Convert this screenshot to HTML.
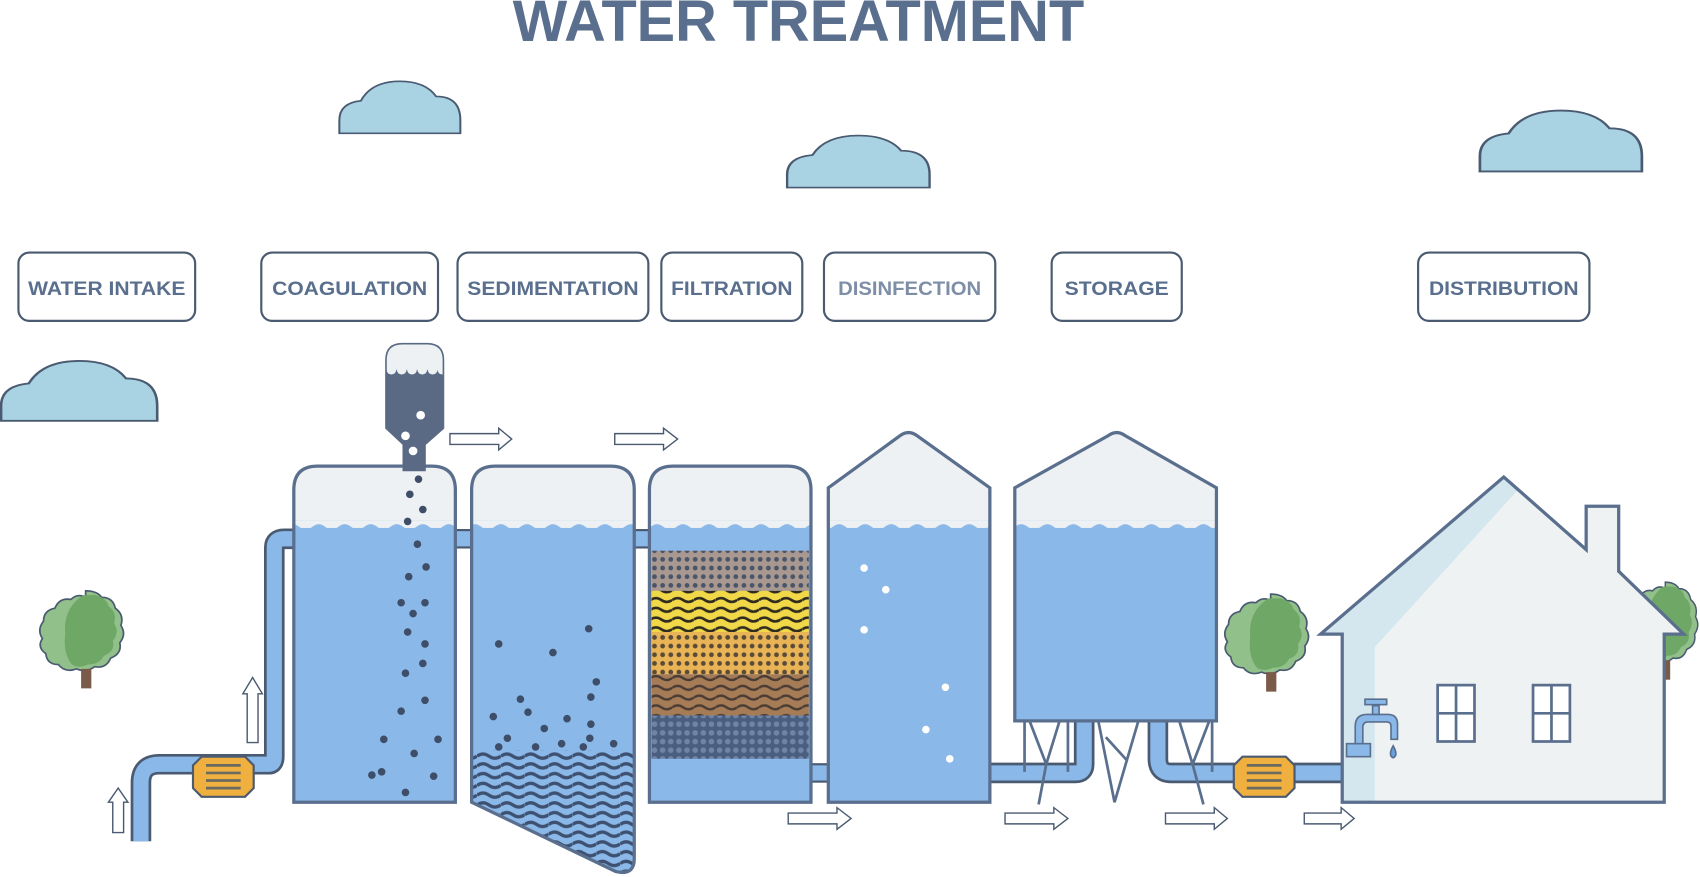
<!DOCTYPE html>
<html><head><meta charset="utf-8"><style>
html,body{margin:0;padding:0;background:#fff;}
svg{display:block;}
text{font-family:"Liberation Sans",Arial,sans-serif;font-weight:bold;}
</style></head><body>
<svg width="1700" height="877" viewBox="0 0 1568 809" preserveAspectRatio="none" xmlns="http://www.w3.org/2000/svg">
<defs>
<pattern id="wv" x="0" y="0" width="24" height="12" patternUnits="userSpaceOnUse">
<path d="M0 6 Q6 1 12 6 T24 6 V12 H0Z" fill="#8ab8e8"/>
</pattern>
<pattern id="dotsA" width="7.5" height="8" patternUnits="userSpaceOnUse"><rect width="8" height="8" fill="#a89890"/><circle cx="3.7" cy="4" r="2.2" fill="#4a5468"/></pattern>
<pattern id="dotsB" width="7.5" height="8" patternUnits="userSpaceOnUse"><rect width="8" height="8" fill="#e9b456"/><circle cx="3.7" cy="4" r="2.2" fill="#5a4a38"/></pattern>
<pattern id="dotsC" width="7.5" height="8" patternUnits="userSpaceOnUse"><rect width="8" height="8" fill="#4a5e80"/><circle cx="3.7" cy="4" r="2.6" fill="#6f84a6"/></pattern>
<pattern id="wavY" width="20" height="9" patternUnits="userSpaceOnUse"><rect width="20" height="9" fill="#f0d848"/><path d="M0 4.5 Q5 1 10 4.5 T20 4.5" stroke="#2e2a20" stroke-width="2.4" fill="none"/></pattern>
<pattern id="wavBr" width="20" height="9" patternUnits="userSpaceOnUse"><rect width="20" height="9" fill="#a67c56"/><path d="M0 4.5 Q5 1 10 4.5 T20 4.5" stroke="#4a3c34" stroke-width="2.2" fill="none"/></pattern>
<pattern id="sludge" width="22" height="9" patternUnits="userSpaceOnUse"><rect width="22" height="9" fill="#8ab8e8"/><path d="M0 4.5 Q5.5 0.5 11 4.5 T22 4.5" stroke="#3e5070" stroke-width="3" fill="none"/></pattern>
<clipPath id="c1"><path d="M271,740 V452 Q271,430 293,430 H398 Q420,430 420,452 V740Z"/></clipPath>
<clipPath id="c2"><path d="M435,740 V452 Q435,430 457,430 H563 Q585,430 585,452 V792 Q585,808 568,804 L435,740Z"/></clipPath>
<clipPath id="c3"><path d="M599,740 V452 Q599,430 621,430 H726 Q748,430 748,452 V740Z"/></clipPath>
<clipPath id="c4"><path d="M764,740 V450 L830,402 Q838,396 846,402 L913,450 V740Z"/></clipPath>
<clipPath id="c5"><path d="M936,665 V450 L1022,402 Q1030,396 1038,402 L1122,450 V665Z"/></clipPath>
<clipPath id="cd"><path d="M356,332 Q356,317 371,317 H394 Q409,317 409,332 V395 L392,410 V434 H372 V410 L356,395Z"/></clipPath>
<g id="cloud"><path d="M0,48 V36 Q0,20 16,18 Q24,0 45,0 Q64,0 72,14 Q90,14 90,36 V48Z" fill="#a9d3e3" stroke="#4a5a70" stroke-width="1.5"/></g>
<g id="tree"><path d="M40,0 q10,0 14,6 q10,0 12,10 q8,6 5,16 q5,8 -1,16 q2,10 -8,14 q-4,10 -14,8 q-8,6 -16,2 q-10,4 -16,-4 q-10,0 -11,-10 q-8,-6 -3,-14 q-5,-8 1,-16 q0,-10 10,-12 q4,-10 14,-8 q6,-6 13,-2z" fill="#92c08a" stroke="#4a5a70" stroke-width="1.5"/><path d="M48,4 q10,2 12,10 q8,6 5,16 q5,8 -1,16 q2,10 -8,14 q-4,8 -14,8 q-8,4 -14,0 q-8,-10 -6,-28 q-2,-24 16,-36z" fill="#6ea766"/><rect x="36" y="72" width="9" height="18" fill="#7a5a48"/></g>
</defs>

<text x="473" y="38" font-size="54" fill="#5a6f8e" textLength="527" lengthAdjust="spacingAndGlyphs">WATER TREATMENT</text>

<use href="#cloud" transform="translate(313,75) scale(1.24,1)"/>
<use href="#cloud" transform="translate(726,125) scale(1.46,1)"/>
<use href="#cloud" transform="translate(1365,102) scale(1.66,1.17)"/>
<use href="#cloud" transform="translate(1,333) scale(1.6,1.15)"/>

<g fill="#fff" stroke="#4a5a70" stroke-width="2">
<rect x="17" y="233" width="163" height="63" rx="10"/>
<rect x="241" y="233" width="163" height="63" rx="10"/>
<rect x="422" y="233" width="176" height="63" rx="10"/>
<rect x="610" y="233" width="130" height="63" rx="10"/>
<rect x="760" y="233" width="158" height="63" rx="10"/>
<rect x="970" y="233" width="120" height="63" rx="10"/>
<rect x="1308" y="233" width="158" height="63" rx="10"/>
</g>
<g font-size="18" fill="#5a6f8e" text-anchor="middle">
<text x="98.5" y="272" textLength="145" lengthAdjust="spacingAndGlyphs">WATER INTAKE</text>
<text x="322.5" y="272" textLength="143" lengthAdjust="spacingAndGlyphs">COAGULATION</text>
<text x="510" y="272" textLength="158" lengthAdjust="spacingAndGlyphs">SEDIMENTATION</text>
<text x="675" y="272" textLength="112" lengthAdjust="spacingAndGlyphs">FILTRATION</text>
<text x="839" y="272" textLength="132" lengthAdjust="spacingAndGlyphs" fill="#7d8ea6">DISINFECTION</text>
<text x="1030" y="272" textLength="96" lengthAdjust="spacingAndGlyphs">STORAGE</text>
<text x="1387" y="272" textLength="138" lengthAdjust="spacingAndGlyphs">DISTRIBUTION</text>
</g>

<use href="#tree" transform="translate(37,545) scale(1.05,1)"/>
<use href="#tree" transform="translate(1130,548) scale(1.05,1)"/>
<use href="#tree" transform="translate(1500,537) scale(0.9,1)"/>

<path d="M130,776 V722 Q130,705 147,705 H248 Q253,705 253,698 V505 Q253,497 262,497 H275" fill="none" stroke="#4a5a70" stroke-width="19"/>
<path d="M130,776 V722 Q130,705 147,705 H248 Q253,705 253,698 V505 Q253,497 262,497 H275" fill="none" stroke="#8ab8e8" stroke-width="14"/>
<g stroke="#4a5a70" stroke-width="2" fill="#8ab8e8">
<rect x="416" y="489" width="23" height="16"/>
<rect x="581" y="489" width="22" height="16"/>
<rect x="744" y="705" width="24" height="16"/>
</g>
<path d="M905,713 H992 Q1000,713 1000,705 V660" fill="none" stroke="#4a5a70" stroke-width="19"/>
<path d="M1068,660 V700 Q1068,713 1080,713 H1238 Q1252,713 1252,700 V690" fill="none" stroke="#4a5a70" stroke-width="19"/>
<path d="M905,713 H992 Q1000,713 1000,705 V660" fill="none" stroke="#8ab8e8" stroke-width="14"/>
<path d="M1068,660 V700 Q1068,713 1080,713 H1238 Q1252,713 1252,700 V690" fill="none" stroke="#8ab8e8" stroke-width="14"/>

<g clip-path="url(#c1)"><rect x="260" y="420" width="170" height="330" fill="#eef1f3"/><rect x="260" y="487" width="170" height="260" fill="#8ab8e8"/><rect x="262" y="480" width="170" height="12" fill="url(#wv)"/></g>
<path d="M271,740 V452 Q271,430 293,430 H398 Q420,430 420,452 V740Z" fill="none" stroke="#5a6f8e" stroke-width="3"/>
<g clip-path="url(#c2)"><rect x="430" y="420" width="170" height="400" fill="#eef1f3"/><rect x="430" y="487" width="170" height="330" fill="#8ab8e8"/><rect x="430" y="480" width="170" height="12" fill="url(#wv)"/><rect x="430" y="692" width="170" height="130" fill="url(#sludge)"/></g>
<path d="M435,740 V452 Q435,430 457,430 H563 Q585,430 585,452 V792 Q585,808 568,804 L435,740Z" fill="none" stroke="#5a6f8e" stroke-width="3"/>
<g clip-path="url(#c3)"><rect x="590" y="420" width="170" height="330" fill="#eef1f3"/><rect x="590" y="487" width="170" height="260" fill="#8ab8e8"/><rect x="592" y="480" width="170" height="12" fill="url(#wv)"/>
<rect x="601" y="508" width="145" height="37" fill="url(#dotsA)"/>
<rect x="601" y="545" width="145" height="38" fill="url(#wavY)"/>
<rect x="601" y="583" width="145" height="39" fill="url(#dotsB)"/>
<rect x="601" y="622" width="145" height="38" fill="url(#wavBr)"/>
<rect x="601" y="660" width="145" height="40" fill="url(#dotsC)"/></g>
<path d="M599,740 V452 Q599,430 621,430 H726 Q748,430 748,452 V740Z" fill="none" stroke="#5a6f8e" stroke-width="3"/>
<g clip-path="url(#c4)"><rect x="760" y="390" width="160" height="360" fill="#eef1f3"/><rect x="760" y="487" width="160" height="260" fill="#8ab8e8"/><rect x="760" y="480" width="160" height="12" fill="url(#wv)"/></g>
<path d="M764,740 V450 L830,402 Q838,396 846,402 L913,450 V740Z" fill="none" stroke="#5a6f8e" stroke-width="3"/>
<g clip-path="url(#c5)"><rect x="930" y="390" width="200" height="280" fill="#eef1f3"/><rect x="930" y="487" width="200" height="180" fill="#8ab8e8"/><rect x="930" y="480" width="200" height="12" fill="url(#wv)"/></g>
<path d="M936,665 V450 L1022,402 Q1030,396 1038,402 L1122,450 V665Z" fill="none" stroke="#5a6f8e" stroke-width="3"/>
<g stroke="#5a6f8e" stroke-width="2.5" fill="none">
<path d="M945,665 V712 M985,665 V712 M945,665 H985 M950,666 L965,705 L977,666 M965,705 L958,742"/>
<path d="M1013,665 L1028,740 L1050,665 M1020,680 L1040,702"/>
<path d="M1080,665 H1118 V712 M1088,666 L1100,705 L1115,666 M1100,705 L1110,742"/>
</g>

<g id="pump">
<path d="M186,698 H226 L234,706 V727 L226,735 H186 L178,727 V706Z" fill="#f0b040" stroke="#4a5a70" stroke-width="2"/>
<g stroke="#6a6a60" stroke-width="2.5"><line x1="190" y1="706" x2="222" y2="706"/><line x1="190" y1="713" x2="222" y2="713"/><line x1="190" y1="720" x2="222" y2="720"/><line x1="190" y1="727" x2="222" y2="727"/></g>
</g>
<use href="#pump" transform="translate(960,0)"/>

<g clip-path="url(#cd)"><rect x="350" y="310" width="70" height="130" fill="#5a6a85"/><rect x="350" y="310" width="70" height="31" fill="#eef1f3"/>
<g fill="#eef1f3"><circle cx="361" cy="341" r="4.5"/><circle cx="370.5" cy="341" r="4.5"/><circle cx="380" cy="341" r="4.5"/><circle cx="389.5" cy="341" r="4.5"/><circle cx="399" cy="341" r="4.5"/><circle cx="408" cy="341" r="4.5"/></g></g>
<path d="M356,332 Q356,317 371,317 H394 Q409,317 409,332 V395 L392,410 V434 H372 V410 L356,395Z" fill="none" stroke="#5a6a85" stroke-width="1.5"/>
<g fill="#fff"><circle cx="388" cy="383" r="4"/><circle cx="374" cy="402" r="4"/><circle cx="381" cy="416" r="4"/></g>

<g fill="#3e4e68">
<circle cx="386" cy="442" r="3.5"/><circle cx="378" cy="456" r="3.5"/><circle cx="390" cy="470" r="3.5"/><circle cx="376" cy="481" r="3.5"/><circle cx="385" cy="502" r="3.5"/><circle cx="393" cy="523" r="3.5"/><circle cx="377" cy="532" r="3.5"/><circle cx="370" cy="556" r="3.5"/><circle cx="392" cy="556" r="3.5"/><circle cx="381" cy="566" r="3.5"/><circle cx="376" cy="583" r="3.5"/><circle cx="392" cy="594" r="3.5"/><circle cx="390" cy="612" r="3.5"/><circle cx="374" cy="621" r="3.5"/><circle cx="392" cy="646" r="3.5"/><circle cx="370" cy="656" r="3.5"/><circle cx="354" cy="682" r="3.5"/><circle cx="404" cy="682" r="3.5"/><circle cx="382" cy="695" r="3.5"/><circle cx="343" cy="715" r="3.5"/><circle cx="374" cy="731" r="3.5"/>
<circle cx="352" cy="712" r="3.5"/><circle cx="400" cy="716" r="3.5"/>
<circle cx="460" cy="594" r="3.5"/><circle cx="543" cy="580" r="3.5"/><circle cx="510" cy="602" r="3.5"/><circle cx="550" cy="629" r="3.5"/><circle cx="480" cy="645" r="3.5"/><circle cx="545" cy="643" r="3.5"/><circle cx="455" cy="661" r="3.5"/><circle cx="487" cy="657" r="3.5"/><circle cx="523" cy="663" r="3.5"/><circle cx="545" cy="668" r="3.5"/><circle cx="502" cy="672" r="3.5"/><circle cx="468" cy="681" r="3.5"/><circle cx="544" cy="681" r="3.5"/><circle cx="460" cy="689" r="3.5"/><circle cx="494" cy="689" r="3.5"/><circle cx="518" cy="686" r="3.5"/><circle cx="538" cy="689" r="3.5"/><circle cx="566" cy="686" r="3.5"/>
</g>
<g fill="#fff"><circle cx="797" cy="524" r="3.5"/><circle cx="817" cy="544" r="3.5"/><circle cx="797" cy="581" r="3.5"/><circle cx="872" cy="634" r="3.5"/><circle cx="854" cy="673" r="3.5"/><circle cx="876" cy="700" r="3.5"/></g>

<path d="M1238,740 V585 H1218 L1387,440 L1463,507 V467 H1493 V527 L1553,585 H1535 V740Z" fill="#eef2f3"/>
<path d="M1238,740 V585 H1218 L1387,440 L1400,452 L1268,597 V740Z" fill="#d4e6ee"/>
<path d="M1238,740 V585 H1218 L1387,440 L1463,507 V467 H1493 V527 L1553,585 H1535 V740Z" fill="none" stroke="#5a6f8e" stroke-width="3" stroke-linejoin="miter"/>
<g fill="#fff" stroke="#5a6f8e" stroke-width="2.5">
<rect x="1326" y="632" width="34" height="52"/><line x1="1343" y1="632" x2="1343" y2="684"/><line x1="1326" y1="658" x2="1360" y2="658"/>
<rect x="1414" y="632" width="34" height="52"/><line x1="1431" y1="632" x2="1431" y2="684"/><line x1="1414" y1="658" x2="1448" y2="658"/>
</g>
<g fill="#8ab8e8" stroke="#5a6f8e" stroke-width="1.5">
<rect x="1242" y="686" width="22" height="12"/>
<path d="M1250,686 V670 Q1250,659 1261,659 H1280 Q1289,659 1289,668 V682 H1283 V670 Q1283,666 1279,666 H1262 Q1257,666 1257,671 V686Z"/>
<rect x="1266" y="651" width="6" height="8"/><rect x="1259" y="645" width="20" height="5"/>
<path d="M1285,688 q-5,9 0,11 q5,-2 0,-11z" fill="#6aa0dd"/>
</g>

<g fill="#fff" stroke="#4a5a70" stroke-width="1.3">
<path d="M104,768 V740 H100 L109,727 L118,740 H114 V768Z"/>
<path d="M228,685 V640 H224 L233,625 L242,640 H238 V685Z"/>
<path d="M415,400 H460 V395 L472,405 L460,415 V410 H415Z"/>
<path d="M567,400 H612 V395 L625,405 L612,415 V410 H567Z"/>
<path d="M727,750 H772 V745 L785,755 L772,765 V760 H727Z"/>
<path d="M927,750 H972 V745 L985,755 L972,765 V760 H927Z"/>
<path d="M1075,750 H1120 V745 L1132,755 L1120,765 V760 H1075Z"/>
<path d="M1203,750 H1237 V745 L1249,755 L1237,765 V760 H1203Z"/>
</g>
</svg>
</body></html>
